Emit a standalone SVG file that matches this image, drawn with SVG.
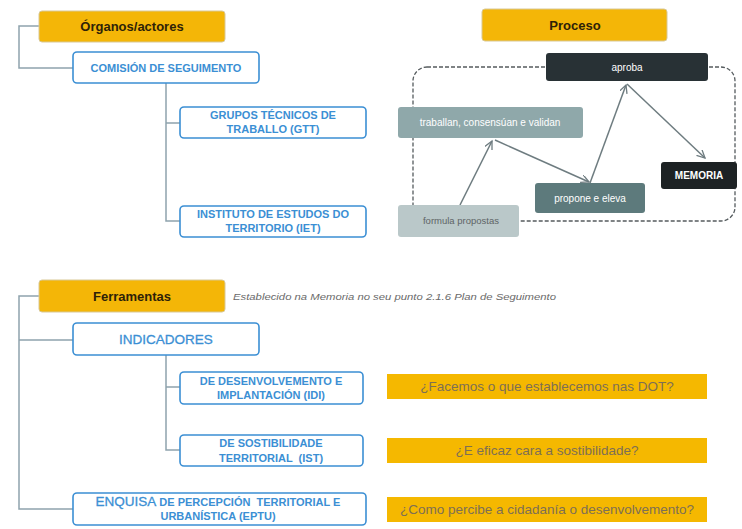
<svg xmlns="http://www.w3.org/2000/svg" width="742" height="529" viewBox="0 0 742 529">
<defs>
<marker id="ah" markerWidth="10" markerHeight="10" refX="8" refY="4" orient="auto" markerUnits="userSpaceOnUse">
<path d="M0,0 L8,4 L0,8" fill="none" stroke="#6e7c80" stroke-width="1.3"/>
</marker>
</defs>
<style>
text{font-family:"Liberation Sans",Arial,sans-serif}
.hdr{fill:#F4B607;stroke:#d8c896;stroke-width:1}
.hdrt{font-size:13px;font-weight:bold;fill:#2e2208;text-anchor:middle}
.bx{fill:#ffffff;stroke:#3b8fd4;stroke-width:1.6}
.bt{font-size:11px;font-weight:bold;fill:#3b8fd4;text-anchor:middle}
.bl{font-size:13.5px;fill:#3b8fd4;text-anchor:middle;stroke:#3b8fd4;stroke-width:0.3}
.tree{fill:none;stroke:#8fa3ad;stroke-width:1.5}
.q{fill:#F5B800}
.qt{font-size:13.5px;fill:#7d6f55;text-anchor:middle}
.pt{font-size:10px;fill:#ffffff;text-anchor:middle}
.ar{stroke:#6e7c80;stroke-width:1.5;fill:none;marker-end:url(#ah)}
</style>
<rect width="742" height="529" fill="#ffffff"/>

<g id="connectors">
<path class="tree" d="M39,26 H19 V68 H73"/>
<path class="tree" d="M166,83 V221 H180 M166,123 H180"/>
<path class="tree" d="M39,296 H19 V509 H73 M19,340 H73"/>
<path class="tree" d="M166,355 V450 H180 M166,387 H180"/>
<rect x="413" y="67" width="322" height="154" rx="14" fill="none" stroke="#555b5e" stroke-width="1.3" stroke-dasharray="4,2"/>
<line class="ar" x1="460" y1="205" x2="492" y2="141"/>
<line class="ar" x1="495" y1="140" x2="589" y2="182"/>
<line class="ar" x1="590" y1="183" x2="626" y2="85"/>
<line class="ar" x1="627" y1="84" x2="705" y2="158"/>
</g>

<g id="organos"><rect class="hdr" x="39" y="11" width="186" height="31" rx="3"/><text class="hdrt" x="132" y="31">Órganos/actores</text></g>
<g id="comision"><rect class="bx" x="73" y="52" width="186" height="31" rx="4"/><text class="bt" x="166" y="72">COMISIÓN DE SEGUIMENTO</text></g>
<g id="gtt"><rect class="bx" x="180" y="107" width="186" height="31" rx="4"/><text class="bt" x="273" y="119">GRUPOS TÉCNICOS DE</text><text class="bt" x="273" y="133">TRABALLO (GTT)</text></g>
<g id="iet"><rect class="bx" x="180" y="206" width="186" height="31" rx="4"/><text class="bt" x="273" y="218">INSTITUTO DE ESTUDOS DO</text><text class="bt" x="273" y="232">TERRITORIO (IET)</text></g>

<g id="proceso"><rect class="hdr" x="482" y="9" width="185" height="32" rx="3"/><text class="hdrt" x="575" y="30">Proceso</text></g>
<g id="aproba"><rect x="546" y="53" width="162" height="28" rx="3" fill="#283135"/><text class="pt" x="627" y="71">aproba</text></g>
<g id="traballan"><rect x="398" y="107" width="185" height="31" rx="3" fill="#8fa8aa"/><text class="pt" x="490" y="126" font-size="10.5">traballan, consensúan e validan</text></g>
<g id="propone"><rect x="535" y="183" width="110" height="30" rx="3" fill="#5d7a7c"/><text class="pt" x="590" y="202">propone e eleva</text></g>
<g id="memoria"><rect x="661" y="162" width="76" height="27" rx="3" fill="#1d2224"/><text class="pt" x="699" y="179" font-weight="bold">MEMORIA</text></g>
<g id="formula"><rect x="398" y="205" width="121" height="32" rx="3" fill="#bac8c9"/><text class="pt" x="461" y="224" style="fill:#5e6466;font-size:9.5px">formula propostas</text></g>

<g id="ferramentas"><rect class="hdr" x="39" y="280" width="186" height="32" rx="3"/><text class="hdrt" x="132" y="301">Ferramentas</text></g>
<text x="233" y="300" font-size="9.5" font-style="italic" fill="#6a6a6a" textLength="323" lengthAdjust="spacingAndGlyphs">Establecido na Memoria no seu punto 2.1.6 Plan de Seguimento</text>
<g id="indicadores"><rect class="bx" x="73" y="323" width="186" height="32" rx="4"/><text class="bl" x="166" y="344">INDICADORES</text></g>
<g id="idi"><rect class="bx" x="180" y="372" width="183" height="32" rx="4"/><text class="bt" x="271" y="385">DE DESENVOLVEMENTO E</text><text class="bt" x="271" y="399">IMPLANTACIÓN (IDI)</text></g>
<g id="ist"><rect class="bx" x="180" y="435" width="183" height="31" rx="4"/><text class="bt" x="271" y="447">DE SOSTIBILIDADE</text><text class="bt" x="271" y="462" xml:space="preserve">TERRITORIAL  (IST)</text></g>
<g id="enquisa"><rect class="bx" x="73" y="493" width="293" height="32" rx="4"/><text class="bt" x="218" y="506" xml:space="preserve"><tspan font-size="13.5" font-weight="normal" stroke="#3b8fd4" stroke-width="0.3">ENQUISA</tspan> DE PERCEPCIÓN  TERRITORIAL E</text><text class="bt" x="218" y="520">URBANÍSTICA (EPTU)</text></g>

<g id="q1"><rect class="q" x="387" y="374" width="320" height="25"/><text class="qt" x="547" y="391">¿Facemos o que establecemos nas DOT?</text></g>
<g id="q2"><rect class="q" x="387" y="438" width="320" height="25"/><text class="qt" x="547" y="455">¿E eficaz cara a sostibilidade?</text></g>
<g id="q3"><rect class="q" x="387" y="497" width="320" height="25"/><text class="qt" x="547" y="514">¿Como percibe a cidadanía o desenvolvemento?</text></g>
</svg>
